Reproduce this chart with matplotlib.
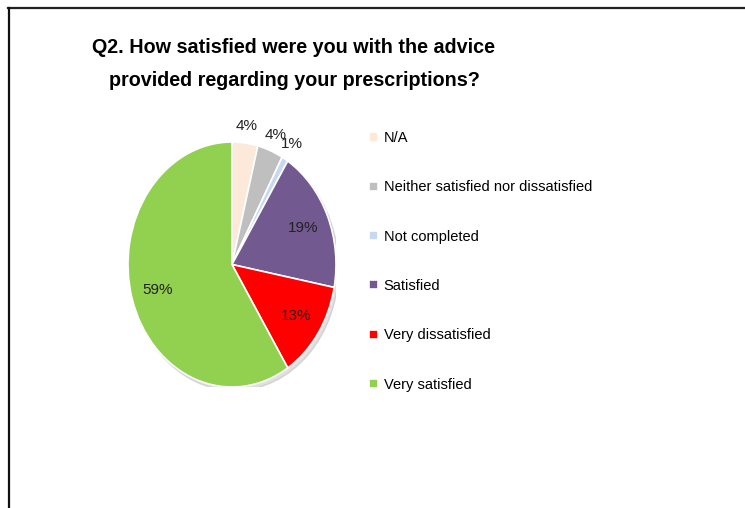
import numpy as np
import matplotlib
matplotlib.use('Agg')
import matplotlib.pyplot as plt
from matplotlib.patches import Ellipse
from matplotlib.lines import Line2D

labels = ['N/A', 'Neither satisfied nor dissatisfied', 'Not completed',
          'Satisfied', 'Very dissatisfied', 'Very satisfied']
values = [4, 4, 1, 19, 13, 59]
colors = ['#FDE9D9', '#BFBFBF', '#C6D9F1', '#72598F', '#FF0000', '#92D050']
title = 'Q2. How satisfied were you with the advice\nprovided regarding your prescriptions?'

plt.rcParams['font.family'] = ['Liberation Sans Narrow', 'Liberation Sans', 'DejaVu Sans']

fig = plt.figure(figsize=(7.45, 5.08), dpi=100)

# frame lines (top and left) like the source slide
fig.add_artist(Line2D([8/745, 1.0], [1 - 8/508, 1 - 8/508], color='#222222', lw=1.6))
fig.add_artist(Line2D([9/745, 9/745], [0, 1 - 8/508], color='#111111', lw=1.6))

fig.text(294/745, 1 - 64/508, title, ha='center', va='center', fontsize=14.2,
         fontweight='bold', linespacing=1.95)

# pie is slightly taller than wide in the original
ax = fig.add_axes([128/745, (508-387)/508, 208/745, 245/508])
shadow = Ellipse((0.025, -0.03), 2.0, 2.0, color='#999999', alpha=0.3, zorder=0)
ax.add_patch(shadow)
wedges, _ = ax.pie(values, colors=colors, startangle=90, counterclock=False,
                   wedgeprops=dict(edgecolor='white', linewidth=1.2))
ax.set_aspect('auto')
ax.set_xlim(-1.0, 1.0)
ax.set_ylim(-1.0, 1.0)
ax.axis('off')

for w, v in zip(wedges, values):
    ang = np.deg2rad((w.theta1 + w.theta2) / 2)
    r = 1.14 if v < 5 else 0.75
    ax.text(r * np.cos(ang), r * np.sin(ang), '%d%%' % v, ha='center', va='center',
            fontsize=11, color='#222222', clip_on=False)

leg = fig.legend(wedges, labels, loc='upper left', bbox_to_anchor=(356/745, 1 - 118/508),
                 frameon=False, fontsize=10.5, handlelength=0.6, handleheight=0.6,
                 handletextpad=0.4, labelspacing=2.42)

fig.savefig('out.png', dpi=100)
